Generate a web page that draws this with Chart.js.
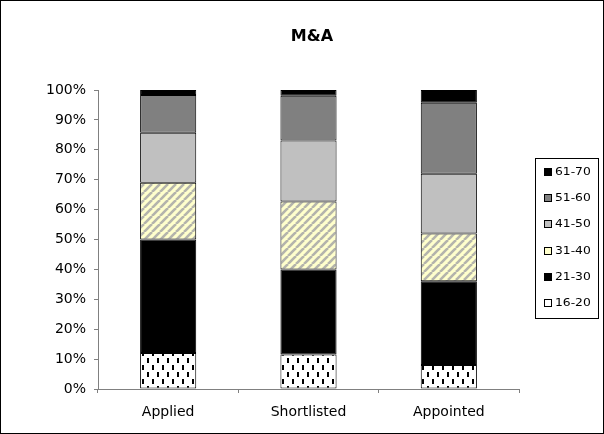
<!DOCTYPE html>
<html>
<head>
<meta charset="utf-8">
<script src="https://cdn.jsdelivr.net/npm/chart.js@4/dist/chart.umd.min.js"></script>
<style>
html,body{margin:0;padding:0;background:#fff;}
#wrap{width:604px;height:434px;position:relative;}
</style>
</head>
<body>
<div id="wrap"><canvas id="c" width="604" height="434"></canvas></div>
<script>
const categories = ['Applied', 'Shortlisted', 'Appointed'];
const seriesLabels = ['16-20', '21-30', '31-40', '41-50', '51-60', '61-70'];
const age16_20 = [12, 11.5, 8];
const age21_30 = [38, 28.5, 28];
const age31_40 = [19, 22.7, 16];
const age41_50 = [16.7, 20.4, 20];
const age51_60 = [12.6, 15, 23.7];
const age61_70 = [1.7, 1.9, 4.3];
const yTicks = [0, 10, 20, 30, 40, 50, 60, 70, 80, 90, 100];
const titleText = 'M&A';

function makePattern(draw, w, h) {
  const c = document.createElement('canvas');
  c.width = w; c.height = h;
  const g = c.getContext('2d');
  draw(g, w, h);
  return g.createPattern(c, 'repeat');
}
const dashPattern = makePattern((g, w, h) => {
  g.fillStyle = '#ffffff'; g.fillRect(0, 0, w, h);
  g.fillStyle = '#000000';
  g.fillRect(2, 1, 2, 5);
  g.fillRect(7, 8, 2, 5);
}, 10, 14);
const stripePattern = makePattern((g, w, h) => {
  g.fillStyle = '#ffffcc'; g.fillRect(0, 0, w, h);
  g.strokeStyle = '#b4b4ac'; g.lineWidth = 2.6;
  for (let k = -1; k <= 1; k++) {
    g.beginPath();
    g.moveTo(k * w, h);
    g.lineTo(k * w + w, 0);
    g.stroke();
  }
}, 8, 8);

const seriesData = [age16_20, age21_30, age31_40, age41_50, age51_60, age61_70];
const fills = [dashPattern, '#000000', stripePattern, '#c0c0c0', '#808080', '#000000'];
const legendFills = ['#ffffff', '#000000', '#ffffcc', '#c0c0c0', '#808080', '#000000'];

const datasets = seriesLabels.map((lab, i) => ({
  label: lab,
  data: seriesData[i],
  backgroundColor: fills[i],
  borderColor: '#000000',
  borderWidth: 1,
  borderSkipped: false,
  barPercentage: 0.4,
  categoryPercentage: 1.0
}));

const FONT = '"DejaVu Sans", sans-serif';

const decor = {
  id: 'decor',
  afterDraw(chart) {
    const ctx = chart.ctx;
    ctx.save();
    ctx.strokeStyle = '#000';
    ctx.lineWidth = 1;
    ctx.strokeRect(0.5, 0.5, 603, 433);
    // title
    ctx.fillStyle = '#000';
    ctx.font = 'bold 16px ' + FONT;
    ctx.textAlign = 'center';
    ctx.textBaseline = 'middle';
    ctx.fillText(titleText, 312, 37);
    // legend
    const bx = 535.5, by = 158.5, bw = 63, bh = 160;
    ctx.strokeRect(bx, by, bw, bh);
    ctx.font = '11px ' + FONT;
    ctx.textAlign = 'left';
    const ds = chart.data.datasets;
    const step = 26.2;
    for (let j = 0; j < ds.length; j++) {
      const idx = ds.length - 1 - j;
      const d = ds[idx];
      const cy = Math.round(172 + j * step);
      ctx.fillStyle = legendFills[idx];
      ctx.fillRect(544, cy - 3, 7, 7);
      ctx.strokeStyle = '#000';
      ctx.strokeRect(544.5, cy - 3.5, 7, 7);
      ctx.fillStyle = '#000';
      ctx.save();
      ctx.translate(555, cy + 0.5);
      ctx.scale(1.12, 1);
      ctx.fillText(d.label, 0, 0);
      ctx.restore();
    }
    ctx.restore();
  }
};

new Chart(document.getElementById('c'), {
  type: 'bar',
  data: { labels: categories, datasets },
  plugins: [decor],
  options: {
    responsive: false,
    animation: false,
    layout: { padding: { top: 90, right: 85, bottom: 0, left: 0 } },
    plugins: { legend: { display: false }, title: { display: false }, tooltip: { enabled: false } },
    scales: {
      x: {
        stacked: true,
        grid: { drawOnChartArea: false, drawTicks: true, tickLength: 4, color: '#808080', offset: true },
        border: { color: '#808080', width: 1 },
        ticks: { color: '#000', font: { family: FONT, size: 14 }, padding: 11 },
        afterFit(s) { s.height = 45; }
      },
      y: {
        stacked: true,
        min: 0, max: 100,
        afterBuildTicks(s) { s.ticks = yTicks.map(v => ({ value: v })); },
        grid: { drawOnChartArea: false, drawTicks: true, tickLength: 4, color: '#808080' },
        border: { color: '#808080', width: 1 },
        ticks: { color: '#000', font: { family: FONT, size: 14 }, padding: 8, callback: v => v + '%' },
        afterFit(s) { s.width = 98; }
      }
    }
  }
});
</script>
</body>
</html>
